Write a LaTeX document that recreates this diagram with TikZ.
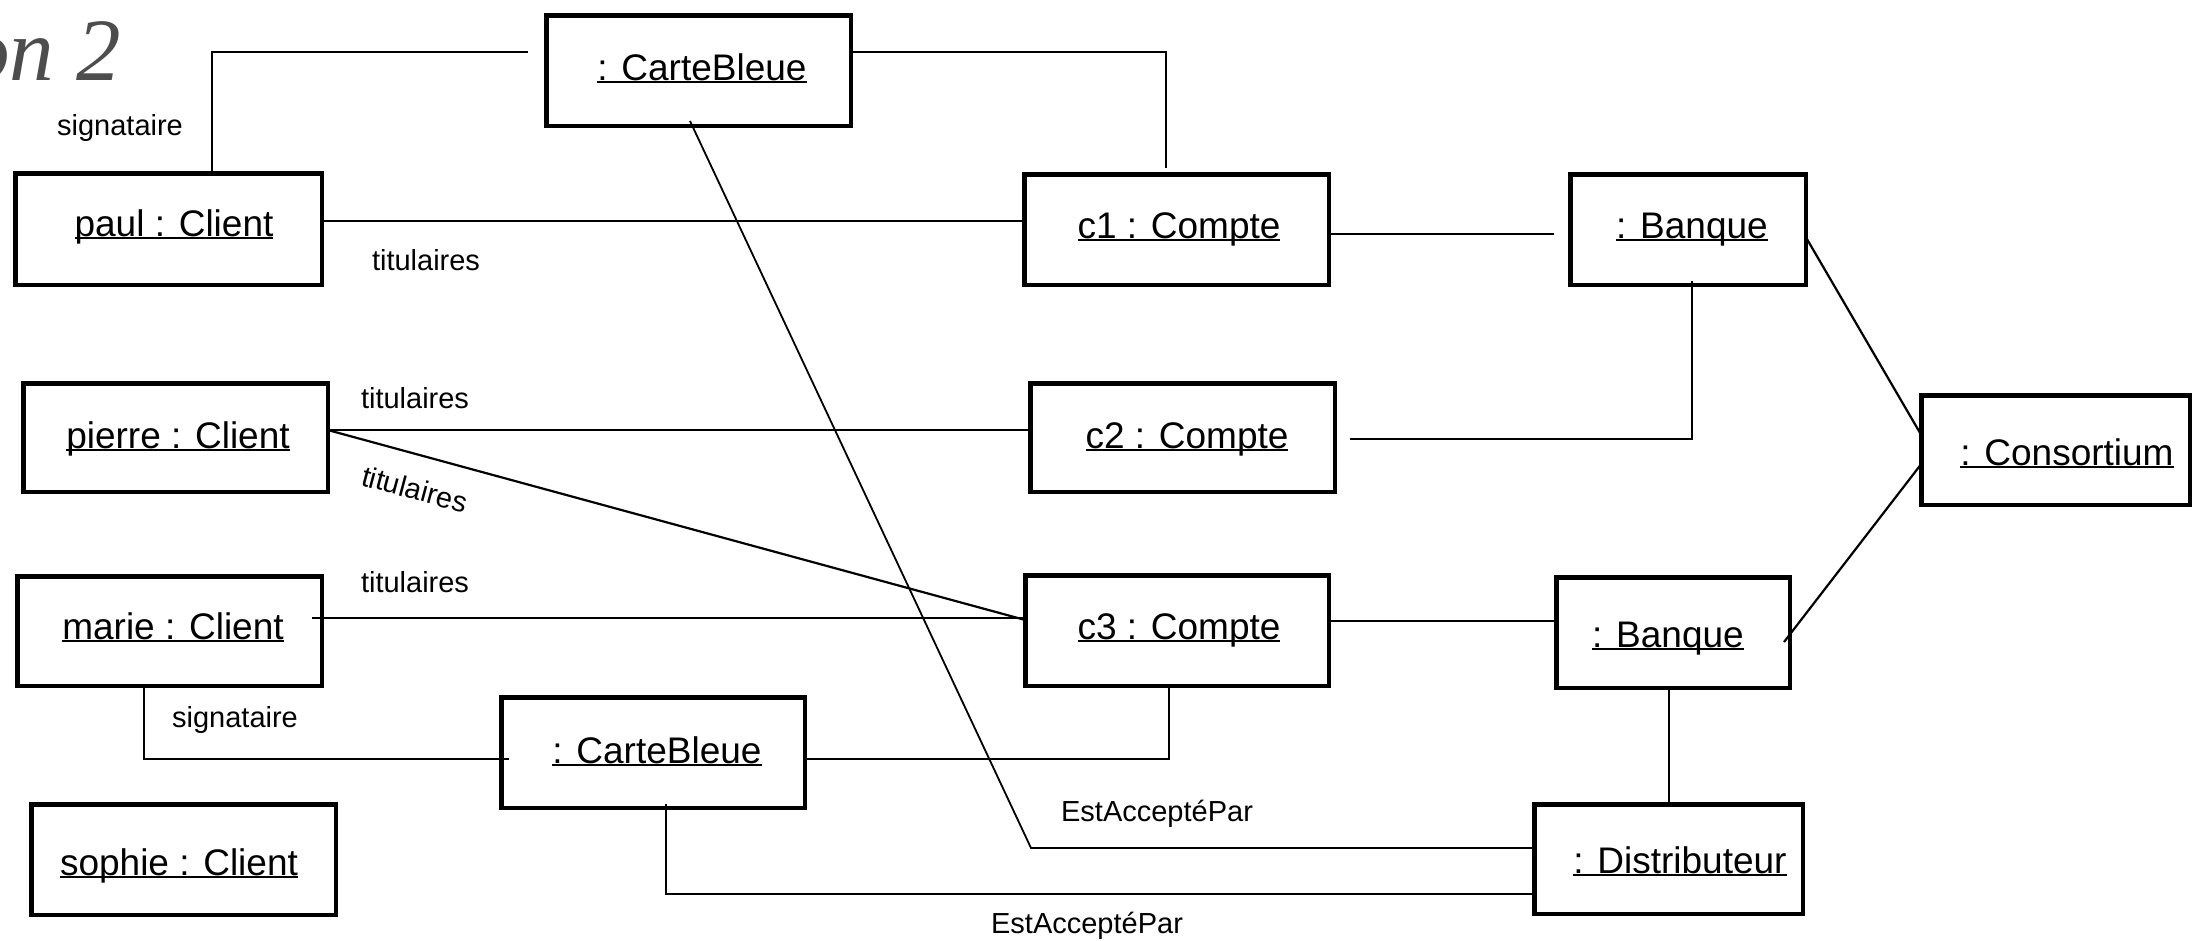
\documentclass[tikz,border=0pt]{standalone}
\usepackage{fontspec}
\setmainfont{Liberation Sans}
\newfontfamily\ttlfont{Liberation Serif}
\usetikzlibrary{calc}
\newcommand\undl[1]{\setbox0\hbox{#1}\rlap{\rule[-0.09em]{\wd0}{0.055em}}\box0}
\definecolor{ttlgray}{HTML}{4D4D4D}
\tikzset{
  obj/.style={draw, line width=4.5pt, inner sep=0pt, outer sep=0pt},
  objtxt/.style={font=\fontsize{37}{44}\selectfont, anchor=base, inner sep=0pt},
  lbl/.style={font=\fontsize{29}{35}\selectfont, anchor=base, inner sep=0pt},
  conn/.style={line width=2.2pt, line join=miter},
  thinconn/.style={line width=1.8pt},
}
\begin{document}
\begin{tikzpicture}[x=1pt, y=-1pt]
\useasboundingbox (0,0) rectangle (2194,940);
\fill[white] (0,0) rectangle (2194,940);

% title fragment
\begin{scope}
  \clip (0,0) rectangle (300,120);
  \node[font=\ttlfont\itshape\fontsize{89}{100}\selectfont, text=ttlgray, anchor=base east, inner sep=0pt] (ttl) at (121,80) {on 2};
\end{scope}

% object boxes
\node[obj, minimum width=304.5pt, minimum height=110.5pt] (cbTop) at (698.5,70.5) {};
\node[obj, minimum width=306.5pt, minimum height=111.5pt] (paul) at (168.5,229) {};
\node[obj, minimum width=304.5pt, minimum height=110.5pt] (c1) at (1176.5,229.5) {};
\node[obj, minimum width=235.5pt, minimum height=110.5pt] (bq1) at (1688,229.5) {};
\node[obj, minimum width=304.5pt, minimum height=108.5pt] (pierre) at (175.5,437.5) {};
\node[obj, minimum width=304.5pt, minimum height=108.5pt] (c2) at (1182.5,437.5) {};
\node[obj, minimum width=268.5pt, minimum height=109.5pt] (cons) at (2055.5,450) {};
\node[obj, minimum width=304.5pt, minimum height=109.5pt] (marie) at (169.5,631) {};
\node[obj, minimum width=303.5pt, minimum height=110.5pt] (c3) at (1177,630.5) {};
\node[obj, minimum width=233.5pt, minimum height=110.5pt] (bq2) at (1673,632.5) {};
\node[obj, minimum width=303.5pt, minimum height=110.5pt] (cbBot) at (653,752.5) {};
\node[obj, minimum width=304.5pt, minimum height=110.5pt] (sophie) at (183.5,859.5) {};
\node[obj, minimum width=268.5pt, minimum height=109.5pt] (dist) at (1668.5,859) {};

% object names
\node[objtxt] (cbTop-t) at (702,80) {\undl{: CarteBleue}};
\node[objtxt] (paul-t) at (174,236) {\undl{paul : Client}};
\node[objtxt] (c1-t) at (1179,238) {\undl{c1 : Compte}};
\node[objtxt] (bq1-t) at (1692,238) {\undl{: Banque}};
\node[objtxt] (pierre-t) at (178,448) {\undl{pierre : Client}};
\node[objtxt] (c2-t) at (1187,448) {\undl{c2 : Compte}};
\node[objtxt] (cons-t) at (2067,465) {\undl{: Consortium}};
\node[objtxt] (marie-t) at (173,639) {\undl{marie : Client}};
\node[objtxt] (c3-t) at (1179,639) {\undl{c3 : Compte}};
\node[objtxt] (bq2-t) at (1668,647) {\undl{: Banque}};
\node[objtxt] (cbBot-t) at (657,763) {\undl{: CarteBleue}};
\node[objtxt] (sophie-t) at (179,875) {\undl{sophie : Client}};
\node[objtxt] (dist-t) at (1680,873) {\undl{: Distributeur}};

% helper coordinates
\coordinate (sigA) at (212,52);
\coordinate (sigAend) at (528,52);
\coordinate (cbc1) at (1166,52);
\coordinate (cbc1end) at (1166,168);
\coordinate (yA) at (0,221);
\coordinate (yB) at (0,234);
\coordinate (bq1gap) at (1554,234);
\coordinate (bq1in) at (1692,281);
\coordinate (c2bq) at (1692,439);
\coordinate (c2gap) at (1350,439);
\coordinate (yC) at (0,237);
\coordinate (yD) at (0,435);
\coordinate (yE) at (0,464);
\coordinate (bq2in) at (1784,642);
\coordinate (yF) at (0,430);
\coordinate (yG) at (0,620);
\coordinate (marieIn) at (312,618);
\coordinate (yH) at (0,618);
\coordinate (sigB) at (144,759);
\coordinate (sigBend) at (509,759);
\coordinate (cbc3) at (1169,759);
\coordinate (yI) at (0,621);
\coordinate (xJ) at (1669,0);
\coordinate (cbTopIn) at (690,121);
\coordinate (bend1) at (1031,848);
\coordinate (cbBotIn) at (666,804);
\coordinate (bend2) at (666,894);

% connectors
\draw[conn] (paul.north -| sigA) -- (sigA) -- (sigAend);
\draw[conn] (cbTop.east |- cbc1) -- (cbc1) -- (cbc1end);
\draw[conn] (paul.east |- yA) -- (c1.west |- yA);
\draw[conn] (c1.east |- yB) -- (bq1gap);
\draw[conn] (bq1in) -- (c2bq) -- (c2gap);
\draw[conn] (bq1.east |- yC) -- (cons.west |- yD);
\draw[conn] (cons.west |- yE) -- (bq2in);
\draw[conn] (pierre.east |- yF) -- (c2.west |- yF);
\draw[conn] (pierre.east |- yF) -- (c3.west |- yG);
\draw[conn] (marieIn) -- (c3.west |- yH);
\draw[conn] (marie.south -| sigB) -- (sigB) -- (sigBend);
\draw[conn] (cbBot.east |- cbc3) -- (cbc3) -- (cbc3 |- c3.south);
\draw[conn] (c3.east |- yI) -- (bq2.west |- yI);
\draw[conn] (bq2.south -| xJ) -- (dist.north -| xJ);
\draw[thinconn] (cbTopIn) -- (bend1) -- (dist.west |- bend1);
\draw[thinconn] (cbBotIn) -- (bend2) -- (dist.west |- bend2);

% labels
\node[lbl] (l-sig1) at (120,135) {signataire};
\node[lbl] (l-tit1) at (426,270) {titulaires};
\node[lbl] (l-tit2) at (415,408) {titulaires};
\node[lbl, anchor=center, rotate=-15] (l-tit3) at (415,489) {titulaires};
\node[lbl] (l-tit4) at (415,592) {titulaires};
\node[lbl] (l-sig2) at (235,727) {signataire};
\node[lbl] (l-est1) at (1157,821) {EstAcceptéPar};
\node[lbl] (l-est2) at (1087,933) {EstAcceptéPar};
\end{tikzpicture}
\end{document}
